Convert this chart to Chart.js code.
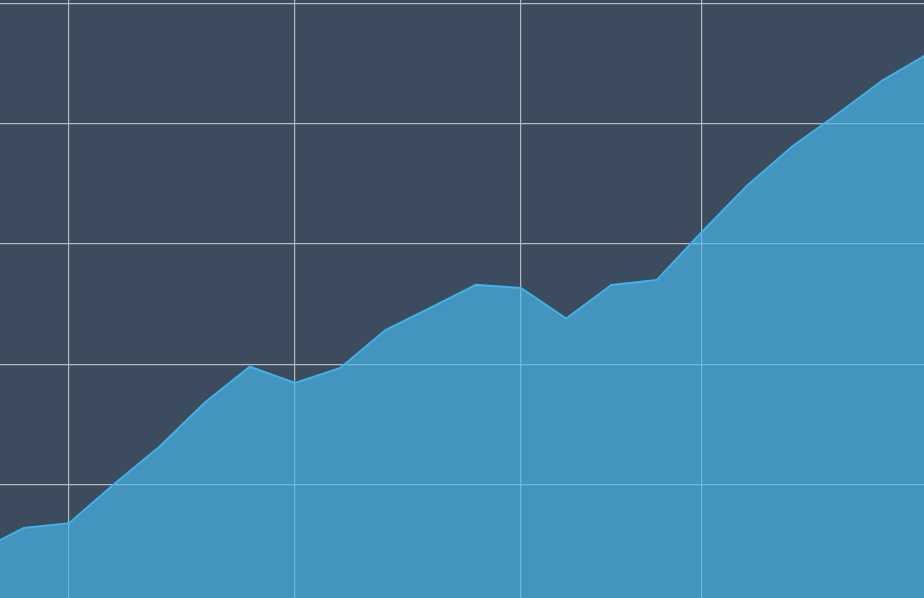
<!DOCTYPE html>
<html>
<head>
<meta charset="utf-8">
<title>Area chart</title>
<script src="https://cdn.jsdelivr.net/npm/chart.js@4"></script>
<style>
    html, body { margin: 0; padding: 0; background: #3c4b5d; overflow: hidden; }
    #wrap { width: 924px; height: 598px; }
</style>
</head>
<body>
<div id="wrap"><canvas id="areaChart" width="924" height="598"></canvas></div>
<script>
// point positions (index along the x axis) and their values
const pointIdx = [-1, 0, 1, 2, 3, 4, 5, 6, 7, 8, 9, 10, 11, 12, 13, 14, 15, 16, 17, 18, 19, 20];
const values   = [9.0, 12.8, 13.6, 20.1, 26.3, 33.6, 39.6, 36.9, 39.4, 45.7, 49.4, 53.2, 52.7, 47.6, 53.2, 54.0, 62.0, 69.7, 76.2, 81.6, 87.2, 91.6];

// where the grid lines sit
const xGridTicks = [1, 6, 11, 15];
const yGridTicks = [20, 40, 60, 80, 100];

const points = pointIdx.map((x, i) => ({ x: x, y: values[i] }));

const ctx = document.getElementById('areaChart').getContext('2d');
new Chart(ctx, {
    type: 'line',
    data: {
        datasets: [{
            data: points,
            borderColor: '#41b2e6',
            borderWidth: 2,
            backgroundColor: 'rgba(71, 186, 241, 0.66)',
            fill: 'origin',
            tension: 0,
            pointRadius: 0
        }]
    },
    options: {
        responsive: false,
        animation: false,
        layout: { padding: 0 },
        scales: {
            x: {
                type: 'linear',
                min: -0.527,
                max: 19.916,
                afterBuildTicks: (axis) => { axis.ticks = xGridTicks.map(v => ({ value: v })); },
                ticks: { display: false },
                grid: { color: '#b5b9bf', lineWidth: 1.2, drawTicks: false },
                border: { display: false }
            },
            y: {
                min: 1.16,
                max: 100.55,
                afterBuildTicks: (axis) => { axis.ticks = yGridTicks.map(v => ({ value: v })); },
                ticks: { display: false },
                grid: { color: '#b5b9bf', lineWidth: 1.2, drawTicks: false },
                border: { display: false }
            }
        },
        plugins: {
            legend: { display: false },
            tooltip: { enabled: false }
        }
    }
});
</script>
</body>
</html>
